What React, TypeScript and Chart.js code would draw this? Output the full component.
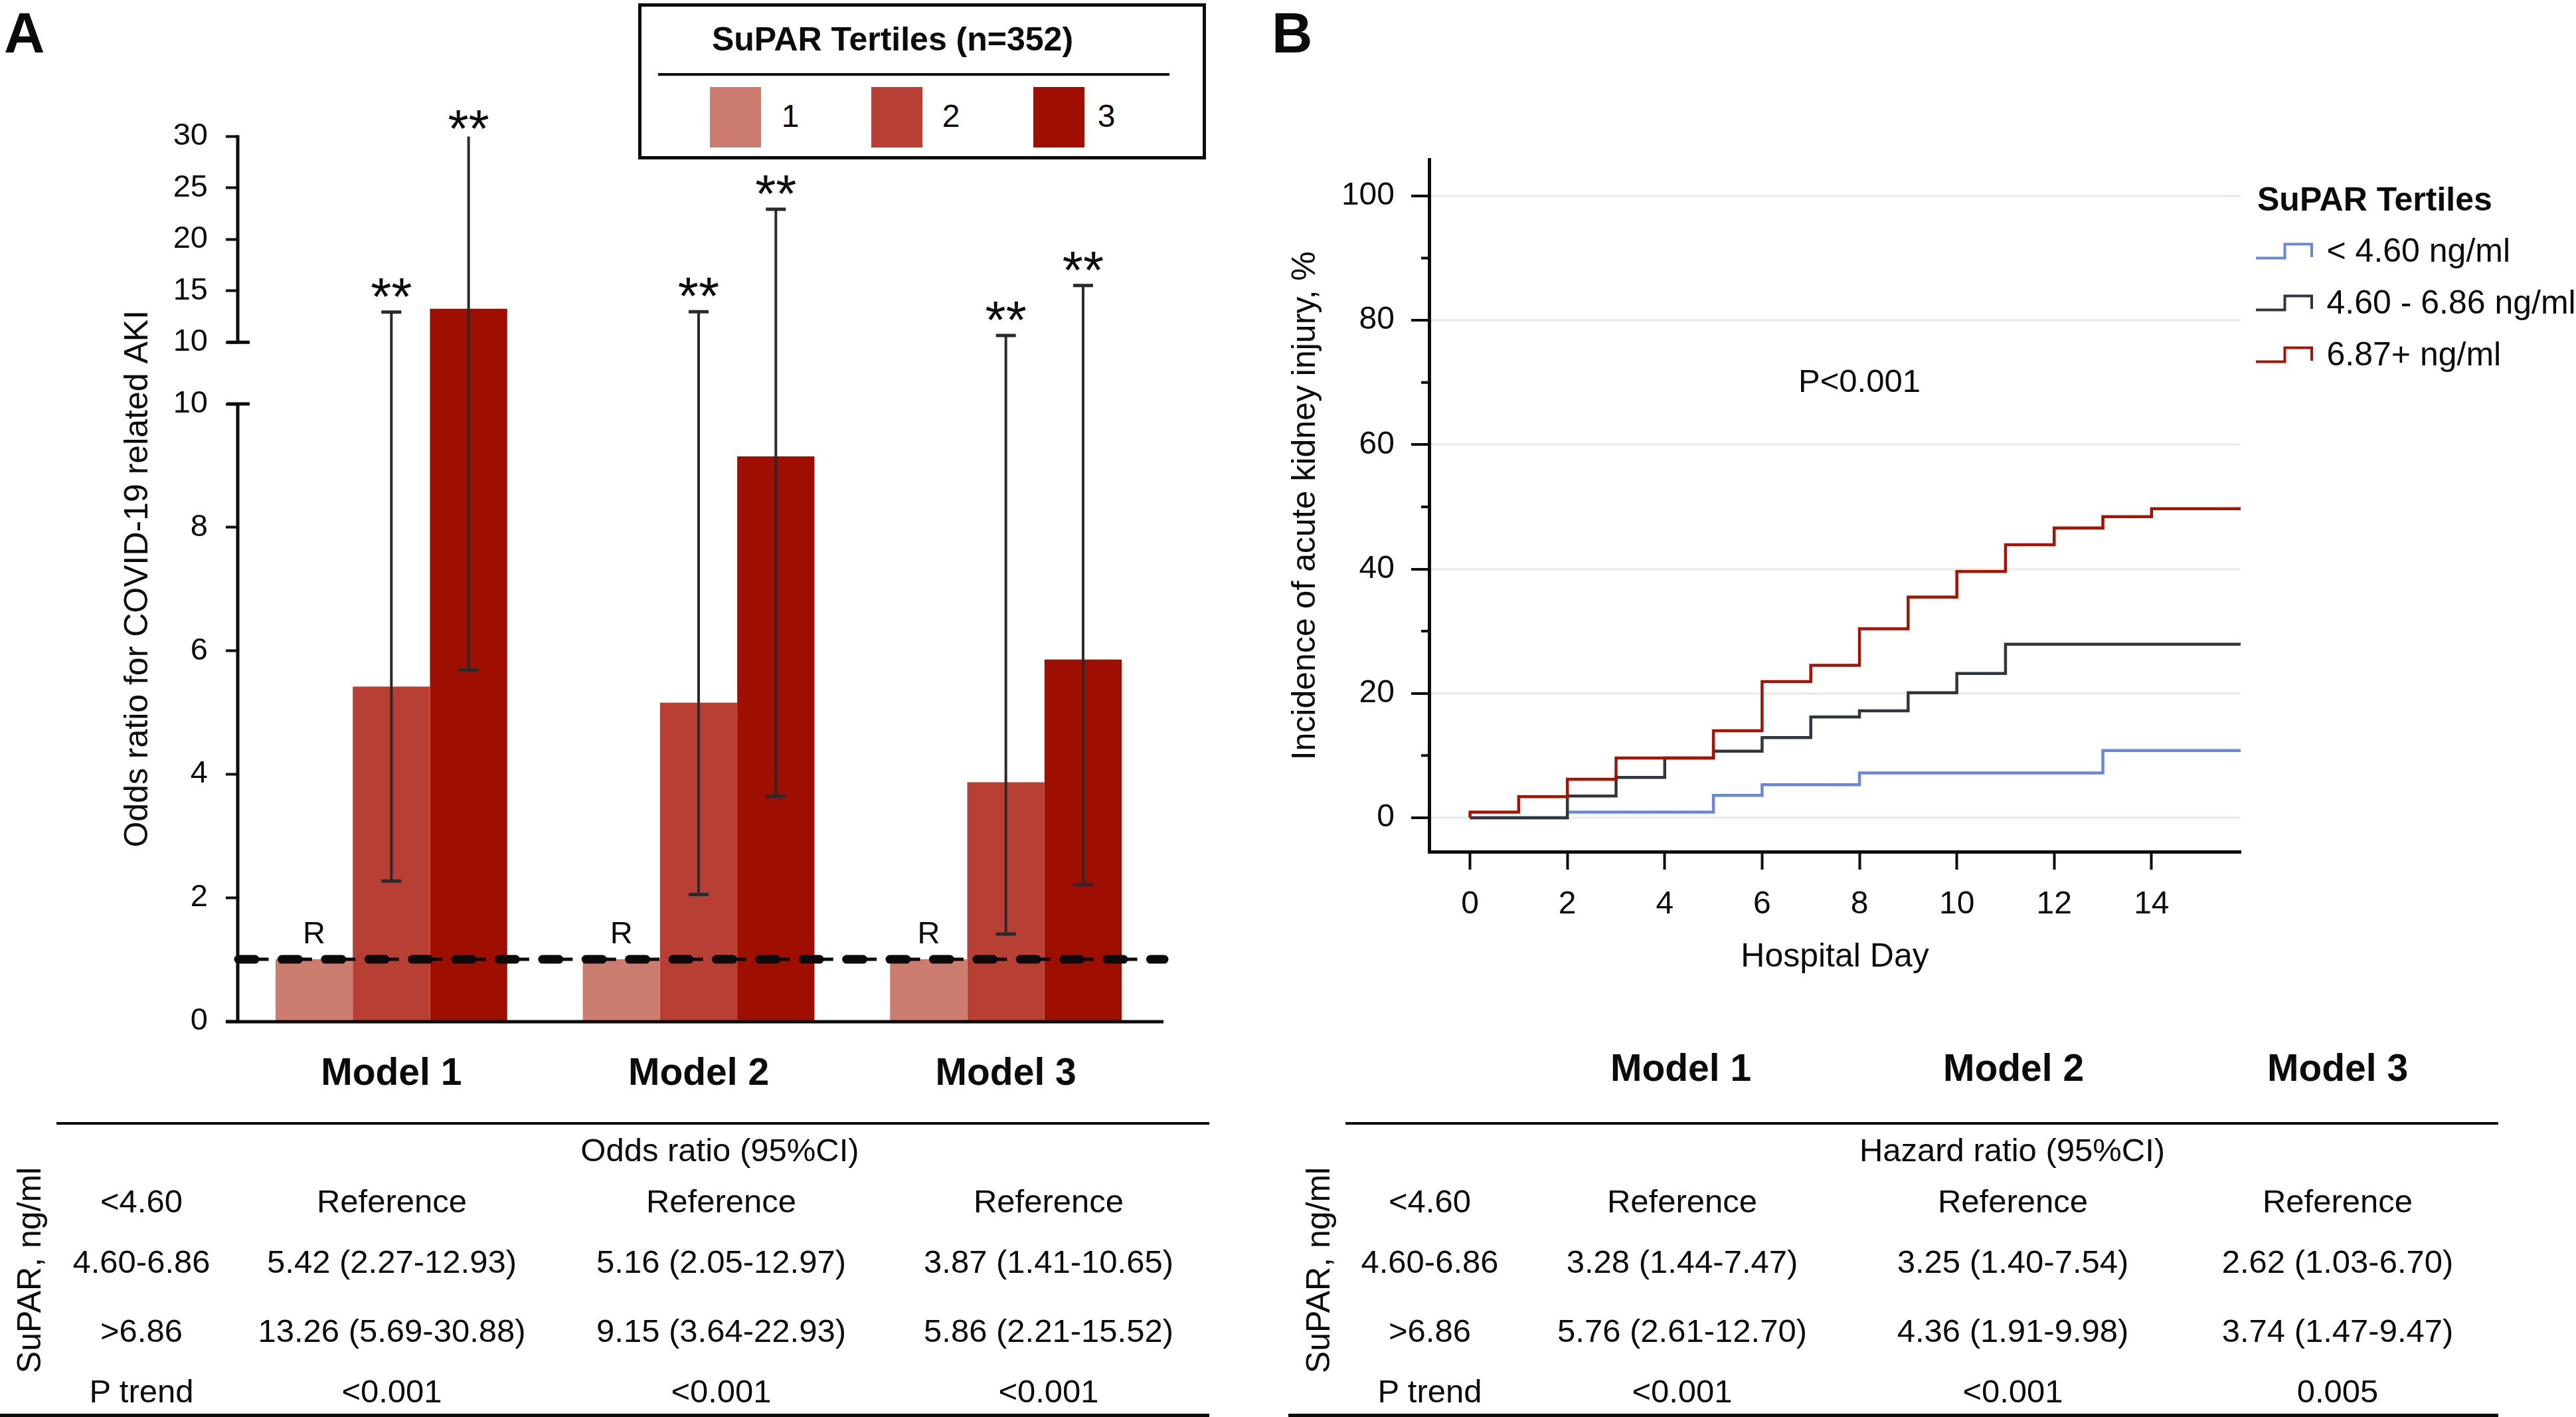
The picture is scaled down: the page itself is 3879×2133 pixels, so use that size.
import React, { useEffect, useRef } from 'react';
import { Chart, registerables } from 'chart.js';

Chart.register(...registerables);

const FONT = "'Liberation Sans', Arial, Helvetica, sans-serif";
const INK = '#0b0b0b';

// ---------------- Panel A data ----------------
const models = ['Model 1', 'Model 2', 'Model 3'];
const tertiles = ['1', '2', '3'];
const tertileColors = ['#cc7d6f', '#b83f34', '#9e0e01'];
const orTertile1 = [1, 1, 1];
const orTertile2 = [5.42, 5.16, 3.87];
const orTertile3 = [13.26, 9.15, 5.86];
const ciLowTertile2 = [2.27, 2.05, 1.41];
const ciHighTertile2 = [12.93, 12.97, 10.65];
const ciLowTertile3 = [5.69, 3.64, 2.21];
const ciHighTertile3 = [30.88, 22.93, 15.52];
const sigTertile2 = ['**', '**', '**'];
const sigTertile3 = ['**', '**', '**'];
const refMark = 'R';
const orPTrend = ['<0.001', '<0.001', '<0.001'];
const yTicksLowerA = [0, 2, 4, 6, 8, 10];
const yTicksUpperA = [10, 15, 20, 25, 30];
const legendTitleA = 'SuPAR Tertiles (n=352)';

// ---------------- Panel B data ----------------
const kmLabels = ['< 4.60 ng/ml', '4.60 - 6.86 ng/ml', '6.87+ ng/ml'];
const kmColors = ['#6787db', '#30373b', '#a81202'];
const kmDaysLow = [0, 2, 5, 6, 8, 13, 16];
const kmPctLow = [0, 0.9, 3.6, 5.3, 7.2, 10.8, 10.8];
const kmDaysMid = [0, 2, 3, 4, 5, 6, 7, 8, 9, 10, 11, 16];
const kmPctMid = [0, 3.5, 6.5, 9.6, 10.7, 12.9, 16.2, 17.2, 20.1, 23.2, 27.9, 27.9];
const kmDaysHigh = [0, 0, 1, 2, 3, 5, 6, 7, 8, 9, 10, 11, 12, 13, 14, 16];
const kmPctHigh = [0, 0.9, 3.4, 6.2, 9.6, 14.0, 21.9, 24.5, 30.4, 35.5, 39.6, 43.9, 46.6, 48.4, 49.7, 49.7];
const xTicksB = [0, 2, 4, 6, 8, 10, 12, 14];
const yTicksB = [0, 20, 40, 60, 80, 100];
const yMinorTicksB = [10, 30, 50, 70, 90];
const legendTitleB = 'SuPAR Tertiles';
const pValueText = 'P<0.001';
const hrTertile2 = [3.28, 3.25, 2.62];
const hrLowTertile2 = [1.44, 1.4, 1.03];
const hrHighTertile2 = [7.47, 7.54, 6.7];
const hrTertile3 = [5.76, 4.36, 3.74];
const hrLowTertile3 = [2.61, 1.91, 1.47];
const hrHighTertile3 = [12.7, 9.98, 9.47];
const hrPTrend = ['<0.001', '<0.001', '0.005'];

// ---------------- Table rows ----------------
const supaRowLabels = ['<4.60', '4.60-6.86', '>6.86', 'P trend'];
const supaTitle = 'SuPAR, ng/ml';
const referenceText = 'Reference';

// broken axis: 0-10 linear, then 10-30 compressed above a gap
const BREAK = 10;
const GAP = 1;
const SQUEEZE = 6;
const toAxis = (v: number, upper: boolean = v > BREAK) =>
  upper ? BREAK + GAP + (v - BREAK) / SQUEEZE : v;

const fmtCI = (v: number, lo: number, hi: number) =>
  `${v.toFixed(2)} (${lo.toFixed(2)}-${hi.toFixed(2)})`;

const panelAPlugin = {
  id: 'panelAExtras',
  afterDatasetsDraw(chart: any) {
    const { ctx, chartArea: ca } = chart;
    const y = chart.scales.y;
    ctx.save();
    const groups = [
      { ds: 1, lo: ciLowTertile2, hi: ciHighTertile2, sig: sigTertile2 },
      { ds: 2, lo: ciLowTertile3, hi: ciHighTertile3, sig: sigTertile3 },
    ];
    groups.forEach((g) => {
      const meta = chart.getDatasetMeta(g.ds);
      meta.data.forEach((bar: any, i: number) => {
        const x = bar.x;
        const yLo = y.getPixelForValue(toAxis(g.lo[i]));
        const yHiRaw = y.getPixelForValue(toAxis(g.hi[i]));
        const clipped = yHiRaw < ca.top;
        const yHi = clipped ? ca.top : yHiRaw;
        ctx.strokeStyle = '#2a2a2a';
        ctx.lineCap = 'butt';
        ctx.lineWidth = 4;
        ctx.beginPath();
        ctx.moveTo(x, yLo);
        ctx.lineTo(x, yHi);
        ctx.stroke();
        ctx.lineWidth = 5;
        ctx.beginPath();
        ctx.moveTo(x - 15, yLo);
        ctx.lineTo(x + 15, yLo);
        if (!clipped) {
          ctx.moveTo(x - 15, yHi);
          ctx.lineTo(x + 15, yHi);
        }
        ctx.stroke();
        ctx.fillStyle = INK;
        ctx.font = `80px ${FONT}`;
        ctx.textAlign = 'center';
        ctx.textBaseline = 'alphabetic';
        const center = clipped ? yHi - 24 : yHi - 35;
        ctx.fillText(g.sig[i], x, center + 39);
      });
    });
    // reference labels
    const m0 = chart.getDatasetMeta(0);
    ctx.fillStyle = INK;
    ctx.font = `47px ${FONT}`;
    ctx.textAlign = 'center';
    ctx.textBaseline = 'alphabetic';
    m0.data.forEach((bar: any) => ctx.fillText(refMark, bar.x, bar.y - 24));
    // reference line at OR = 1
    const yRef = y.getPixelForValue(1);
    const x0 = ca.left + 1;
    const x1 = ca.right + 7;
    ctx.strokeStyle = INK;
    ctx.lineWidth = 5;
    ctx.lineCap = 'butt';
    ctx.setLineDash([45.5, 19.9]);
    ctx.beginPath();
    ctx.moveTo(x0, yRef);
    ctx.lineTo(x1, yRef);
    ctx.stroke();
    ctx.lineWidth = 13;
    ctx.lineCap = 'round';
    ctx.setLineDash([25, 40.4]);
    ctx.beginPath();
    ctx.moveTo(x0, yRef);
    ctx.lineTo(x1, yRef);
    ctx.stroke();
    ctx.restore();
  },
  afterDraw(chart: any) {
    const { ctx, chartArea: ca } = chart;
    const y = chart.scales.y;
    const yBreakLow = y.getPixelForValue(toAxis(BREAK, false));
    const yBreakHigh = y.getPixelForValue(toAxis(BREAK, true));
    ctx.save();
    ctx.strokeStyle = INK;
    ctx.lineWidth = 5;
    ctx.lineCap = 'butt';
    ctx.beginPath();
    ctx.moveTo(ca.left, ca.bottom + 2);
    ctx.lineTo(ca.left, yBreakLow);
    ctx.moveTo(ca.left, yBreakHigh);
    ctx.lineTo(ca.left, ca.top - 2);
    ctx.moveTo(ca.left - 16, yBreakLow);
    ctx.lineTo(ca.left + 18, yBreakLow);
    ctx.moveTo(ca.left - 16, yBreakHigh);
    ctx.lineTo(ca.left + 18, yBreakHigh);
    ctx.moveTo(ca.left - 18, ca.bottom + 1);
    ctx.lineTo(ca.right + 6, ca.bottom + 1);
    ctx.stroke();
    ctx.restore();
  },
};

const panelBPlugin = {
  id: 'panelBExtras',
  afterDraw(chart: any) {
    const { ctx, chartArea: ca } = chart;
    const { x, y } = chart.scales;
    ctx.save();
    ctx.strokeStyle = INK;
    ctx.lineWidth = 4;
    ctx.beginPath();
    yMinorTicksB.forEach((v) => {
      const py = y.getPixelForValue(v);
      ctx.moveTo(ca.left - 12, py);
      ctx.lineTo(ca.left - 2, py);
    });
    ctx.stroke();
    // p value annotation
    ctx.fillStyle = INK;
    ctx.font = `49px ${FONT}`;
    ctx.textAlign = 'center';
    ctx.textBaseline = 'alphabetic';
    ctx.fillText(pValueText, x.getPixelForValue(8), y.getPixelForValue(68.5));
    // legend
    const lx = ca.right + 25;
    ctx.textAlign = 'left';
    ctx.font = `bold 50px ${FONT}`;
    ctx.fillText(legendTitleB, lx, ca.top + 76.5);
    chart.data.datasets.forEach((ds: any, i: number) => {
      const base = ca.top + 153.5 + i * 78;
      ctx.strokeStyle = ds.borderColor;
      ctx.lineWidth = 4;
      ctx.lineJoin = 'miter';
      ctx.lineCap = 'butt';
      ctx.beginPath();
      ctx.moveTo(lx - 2, base - 5.5);
      ctx.lineTo(lx + 41.5, base - 5.5);
      ctx.lineTo(lx + 41.5, base - 26.5);
      ctx.lineTo(lx + 82, base - 26.5);
      ctx.lineTo(lx + 82, base - 7);
      ctx.stroke();
      ctx.fillStyle = INK;
      ctx.font = `50px ${FONT}`;
      ctx.fillText(ds.label, lx + 104.5, base);
    });
    ctx.restore();
  },
};

type TxtProps = {
  x: number;
  y: number;
  size: number;
  bold?: boolean;
  align?: 'left' | 'center' | 'right';
  children: React.ReactNode;
};

function Txt({ x, y, size, bold, align = 'center', children }: TxtProps) {
  const style: React.CSSProperties = {
    position: 'absolute',
    left: x,
    top: y - 0.8465 * size,
    fontSize: size,
    lineHeight: `${size}px`,
    fontWeight: bold ? 700 : 400,
    fontFamily: FONT,
    color: INK,
    whiteSpace: 'nowrap',
    transform:
      align === 'center' ? 'translateX(-50%)' : align === 'right' ? 'translateX(-100%)' : undefined,
  };
  return <div style={style}>{children}</div>;
}

function RotTxt({ x, y, size, children }: { x: number; y: number; size: number; children: React.ReactNode }) {
  return (
    <div
      style={{
        position: 'absolute',
        left: x,
        top: y,
        fontSize: size,
        lineHeight: `${size}px`,
        fontFamily: FONT,
        color: INK,
        whiteSpace: 'nowrap',
        transform: 'translate(-50%, -50%) rotate(-90deg)',
      }}
    >
      {children}
    </div>
  );
}

function HLine({ x0, x1, y, w }: { x0: number; x1: number; y: number; w: number }) {
  return (
    <div
      style={{ position: 'absolute', left: x0, top: y - w / 2, width: x1 - x0, height: w, background: INK }}
    />
  );
}

const ROW_BASE = [1825, 1916, 2020, 2111];
const TABLE_SIZE = 49;

function ResultTable({
  header,
  headerX,
  labelX,
  colX,
  cells,
  top,
  bottom,
  rotX,
}: {
  header: string;
  headerX: number;
  labelX: number;
  colX: number[];
  cells: string[][];
  top: [number, number];
  bottom: [number, number];
  rotX: number;
}) {
  return (
    <>
      <HLine x0={top[0]} x1={top[1]} y={1691} w={4} />
      <HLine x0={bottom[0]} x1={bottom[1]} y={2130} w={5} />
      <Txt x={headerX} y={1748.5} size={TABLE_SIZE}>
        {header}
      </Txt>
      <RotTxt x={rotX} y={1912} size={50}>
        {supaTitle}
      </RotTxt>
      {supaRowLabels.map((lab, r) => (
        <Txt key={'l' + r} x={labelX} y={ROW_BASE[r]} size={TABLE_SIZE}>
          {lab}
        </Txt>
      ))}
      {cells.map((col, c) =>
        col.map((t, r) => (
          <Txt key={c + '-' + r} x={colX[c]} y={ROW_BASE[r]} size={TABLE_SIZE}>
            {t}
          </Txt>
        ))
      )}
    </>
  );
}

export default function App() {
  const refA = useRef<HTMLCanvasElement | null>(null);
  const refB = useRef<HTMLCanvasElement | null>(null);

  useEffect(() => {
    document.body.style.margin = '0';
    Chart.defaults.font.family = FONT;
    Chart.defaults.color = INK;

    const yTickValsA = [
      ...yTicksLowerA.map((v) => toAxis(v, false)),
      ...yTicksUpperA.map((v) => toAxis(v, true)),
    ];
    const yTickLabelsA = [...yTicksLowerA, ...yTicksUpperA].map(String);
    const orSeries = [orTertile1, orTertile2, orTertile3];

    const chartA = new Chart(refA.current as HTMLCanvasElement, {
      type: 'bar',
      data: {
        labels: models,
        datasets: orSeries.map((vals, i) => ({
          label: tertiles[i],
          data: vals.map((v) => toAxis(v)),
          backgroundColor: tertileColors[i],
          borderWidth: 0,
          categoryPercentage: 0.754,
          barPercentage: 1,
        })),
      },
      options: {
        responsive: false,
        animation: false,
        devicePixelRatio: 1,
        layout: { padding: { top: 205.5, right: 154, left: 0, bottom: 0 } },
        plugins: { legend: { display: false }, tooltip: { enabled: false } },
        scales: {
          x: {
            type: 'category',
            offset: true,
            grid: { display: true, drawOnChartArea: false, drawTicks: false },
            border: { display: false },
            ticks: {
              color: INK,
              font: { family: FONT, size: 57, weight: 'bold' },
              padding: 46,
              maxRotation: 0,
              autoSkip: false,
            },
            afterFit: (s: any) => {
              s.height = 143;
            },
          },
          y: {
            type: 'linear',
            min: 0,
            max: toAxis(yTicksUpperA[yTicksUpperA.length - 1], true),
            afterBuildTicks: (s: any) => {
              s.ticks = yTickValsA.map((v) => ({ value: v }));
            },
            ticks: {
              autoSkip: false,
              color: INK,
              font: { family: FONT, size: 47 },
              padding: 27,
              callback: (_v: any, i: number) => yTickLabelsA[i],
            },
            grid: {
              display: true,
              drawOnChartArea: false,
              drawTicks: true,
              tickLength: 18,
              tickWidth: 4,
              tickColor: INK,
            },
            border: { display: false },
            title: {
              display: true,
              text: 'Odds ratio for COVID-19 related AKI',
              color: INK,
              font: { family: FONT, size: 50 },
              padding: { top: 178, bottom: 0 },
            },
            afterFit: (s: any) => {
              s.width = 358;
            },
          },
        },
      } as any,
      plugins: [panelAPlugin],
    });

    const kmDays = [kmDaysLow, kmDaysMid, kmDaysHigh];
    const kmPct = [kmPctLow, kmPctMid, kmPctHigh];
    const chartB = new Chart(refB.current as HTMLCanvasElement, {
      type: 'line',
      data: {
        datasets: kmLabels.map((lab, i) => ({
          label: lab,
          data: kmDays[i].map((d, j) => ({ x: d, y: kmPct[i][j] })),
          borderColor: kmColors[i],
          backgroundColor: kmColors[i],
          borderWidth: 4.5,
          pointRadius: 0,
          stepped: 'before',
          fill: false,
          order: kmLabels.length - 1 - i,
          clip: 0,
        })),
      },
      options: {
        responsive: false,
        animation: false,
        devicePixelRatio: 1,
        layout: { padding: { top: 240.5, right: 505, left: 0, bottom: 0 } },
        plugins: { legend: { display: false }, tooltip: { enabled: false } },
        scales: {
          x: {
            type: 'linear',
            min: -0.84,
            max: 15.83,
            afterBuildTicks: (s: any) => {
              s.ticks = xTicksB.map((v) => ({ value: v }));
            },
            ticks: { color: INK, font: { family: FONT, size: 48 }, padding: 24, maxRotation: 0, autoSkip: false },
            grid: { display: true, drawOnChartArea: false, tickLength: 27, tickWidth: 4, tickColor: INK },
            border: { display: true, width: 5, color: INK },
            title: {
              display: true,
              text: 'Hospital Day',
              color: INK,
              font: { family: FONT, size: 50 },
              padding: { top: 0, bottom: 29 },
            },
            afterFit: (s: any) => {
              s.height = 218;
            },
          },
          y: {
            type: 'linear',
            min: -5.45,
            max: 105.8,
            afterBuildTicks: (s: any) => {
              s.ticks = yTicksB.map((v) => ({ value: v }));
            },
            ticks: { color: INK, font: { family: FONT, size: 48 }, padding: 25, autoSkip: false },
            grid: {
              display: true,
              drawOnChartArea: true,
              color: '#ebeeee',
              lineWidth: 4,
              tickLength: 27,
              tickWidth: 4,
              tickColor: INK,
            },
            border: { display: true, width: 5, color: INK },
            title: {
              display: true,
              text: 'Incidence of acute kidney injury, %',
              color: INK,
              font: { family: FONT, size: 50 },
              padding: { top: 36.7, bottom: 0 },
            },
            afterFit: (s: any) => {
              s.width = 252;
            },
          },
        },
      } as any,
      plugins: [panelBPlugin],
    });

    return () => {
      chartA.destroy();
      chartB.destroy();
    };
  }, []);

  const orCells = models.map((_, c) => [
    referenceText,
    fmtCI(orTertile2[c], ciLowTertile2[c], ciHighTertile2[c]),
    fmtCI(orTertile3[c], ciLowTertile3[c], ciHighTertile3[c]),
    orPTrend[c],
  ]);
  const hrCells = models.map((_, c) => [
    referenceText,
    fmtCI(hrTertile2[c], hrLowTertile2[c], hrHighTertile2[c]),
    fmtCI(hrTertile3[c], hrLowTertile3[c], hrHighTertile3[c]),
    hrPTrend[c],
  ]);

  const swatchLeft = [1069, 1312, 1556];
  const swatchLabelX = [1190, 1432, 1666];
  const modelHeadB = [2531, 3032, 3520];

  return (
    <div
      style={{
        position: 'relative',
        width: 3879,
        height: 2133,
        overflow: 'hidden',
        background: '#ffffff',
        fontFamily: FONT,
      }}
    >
      <canvas
        ref={refA}
        width={1900}
        height={1680}
        style={{ position: 'absolute', left: 0, top: 0, width: 1900, height: 1680, display: 'block' }}
      />
      <canvas
        ref={refB}
        width={1979}
        height={1500}
        style={{ position: 'absolute', left: 1900, top: 0, width: 1979, height: 1500, display: 'block' }}
      />

      <Txt x={6} y={78.6} size={85} bold align="left">
        A
      </Txt>
      <Txt x={1915} y={78.6} size={85} bold align="left">
        B
      </Txt>

      {/* Panel A legend */}
      <div
        style={{
          position: 'absolute',
          left: 961,
          top: 5,
          width: 855,
          height: 235,
          border: `5px solid ${INK}`,
          boxSizing: 'border-box',
          background: '#fff',
        }}
      />
      <Txt x={1344} y={76} size={50} bold>
        {legendTitleA}
      </Txt>
      <HLine x0={991} x1={1761} y={112} w={4} />
      {tertiles.map((t, i) => (
        <React.Fragment key={t}>
          <div
            style={{
              position: 'absolute',
              left: swatchLeft[i],
              top: 130.5,
              width: 77,
              height: 91,
              background: tertileColors[i],
            }}
          />
          <Txt x={swatchLabelX[i]} y={192} size={48}>
            {t}
          </Txt>
        </React.Fragment>
      ))}

      {/* Tables */}
      <ResultTable
        header="Odds ratio (95%CI)"
        headerX={1084}
        labelX={213}
        colX={[590, 1086, 1579]}
        cells={orCells}
        top={[85, 1821]}
        bottom={[0, 1821]}
        rotX={43.5}
      />
      {models.map((m, i) => (
        <Txt key={m} x={modelHeadB[i]} y={1627} size={57} bold>
          {m}
        </Txt>
      ))}
      <ResultTable
        header="Hazard ratio (95%CI)"
        headerX={3030}
        labelX={2153}
        colX={[2533, 3031, 3520]}
        cells={hrCells}
        top={[2026, 3762]}
        bottom={[1940, 3762]}
        rotX={1985}
      />
    </div>
  );
}
